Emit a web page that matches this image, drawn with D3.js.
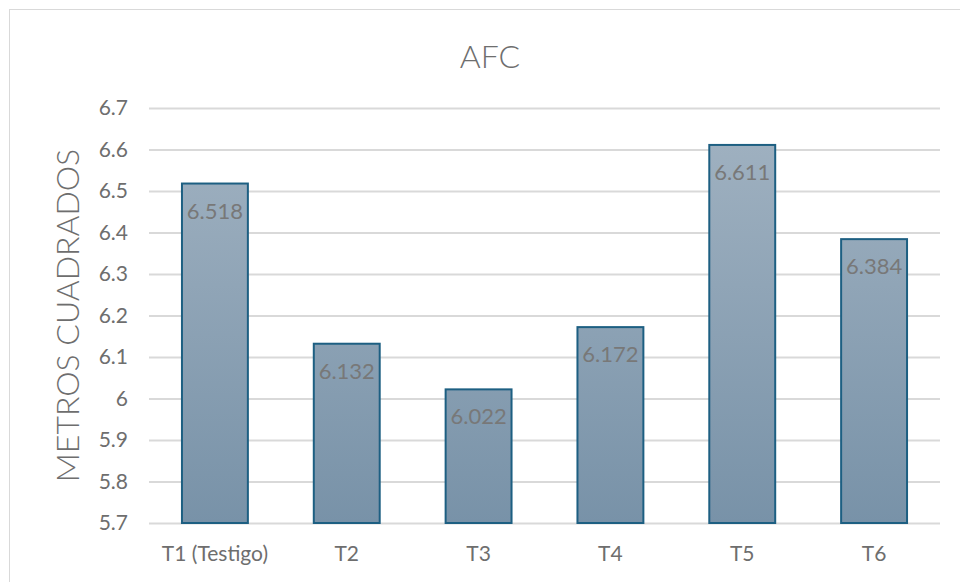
<!DOCTYPE html>
<html>
<head>
<meta charset="utf-8">
<script src="https://cdn.jsdelivr.net/npm/d3@7"></script>
<style>
  html, body { margin: 0; padding: 0; background: #fff; }
  svg { display: block; }
  text { font-family: Lato, "Open Sans", sans-serif; }
</style>
</head>
<body>
<svg id="chart" width="960" height="582"></svg>
<script>
// Treatment categories and measured AFC values (square metres)
const categories = ["T1 (Testigo)", "T2", "T3", "T4", "T5", "T6"];
const values = [6.518, 6.132, 6.022, 6.172, 6.611, 6.384];
const yTicks = [5.7, 5.8, 5.9, 6.0, 6.1, 6.2, 6.3, 6.4, 6.5, 6.6, 6.7];
const chartTitle = "AFC";
const yTitle = "METROS CUADRADOS";

const svg = d3.select("#chart");
const W = 960, H = 582;
const plot = { left: 149, right: 940, top: 108, bottom: 523 };

// Outer chart frame
svg.append("rect")
  .attr("x", 9.5).attr("y", 9.5)
  .attr("width", W + 10).attr("height", H + 10)
  .attr("fill", "#fff").attr("stroke", "#d9d9d9").attr("stroke-width", 1);

const x = d3.scaleBand()
  .domain(categories)
  .range([plot.left, plot.right])
  .paddingInner(0.5).paddingOuter(0.25);

const y = d3.scaleLinear()
  .domain([5.7, 6.7])
  .range([plot.bottom, plot.top]);

// Bar gradient
const defs = svg.append("defs");
const grad = defs.append("linearGradient")
  .attr("id", "barFill")
  .attr("gradientUnits", "userSpaceOnUse")
  .attr("x1", 0).attr("x2", 0)
  .attr("y1", plot.top).attr("y2", plot.bottom);
grad.append("stop").attr("offset", "0%").attr("stop-color", "#a2b3c2");
grad.append("stop").attr("offset", "100%").attr("stop-color", "#7892a8");

// Horizontal gridlines and tick labels
const yAxis = d3.axisLeft(y)
  .tickValues(yTicks)
  .tickSize(-(plot.right - plot.left))
  .tickPadding(21)
  .tickFormat(d => d3.format("")(+d.toFixed(1)));

const gy = svg.append("g")
  .attr("transform", `translate(${plot.left},0)`)
  .call(yAxis);
gy.select(".domain").remove();
gy.selectAll(".tick line").attr("stroke", "#d9d9d9").attr("stroke-width", 2);
gy.selectAll(".tick text")
  .attr("fill", "#6e6e6e")
  .attr("font-size", 21)
  .attr("font-family", "Lato, sans-serif");

// Bars
svg.append("g").selectAll("rect")
  .data(values)
  .join("rect")
  .attr("x", (d, i) => x(categories[i]))
  .attr("y", d => y(d))
  .attr("width", x.bandwidth())
  .attr("height", d => y(5.7) - y(d))
  .attr("fill", "url(#barFill)")
  .attr("stroke", "#1d5f82")
  .attr("stroke-width", 2);

// Value labels inside the top of each bar
svg.append("g").selectAll("text")
  .data(values)
  .join("text")
  .attr("x", (d, i) => x(categories[i]) + x.bandwidth() / 2)
  .attr("y", d => y(d) + 35)
  .attr("text-anchor", "middle")
  .attr("fill", "#787878")
  .attr("font-size", 22)
  .text(d => d3.format(".3f")(d));

// Category labels
svg.append("g").selectAll("text")
  .data(categories)
  .join("text")
  .attr("x", d => x(d) + x.bandwidth() / 2)
  .attr("y", 561)
  .attr("text-anchor", "middle")
  .attr("fill", "#6e6e6e")
  .attr("font-size", 21)
  .text(d => d);

// Chart title
svg.append("text")
  .attr("x", 490).attr("y", 68)
  .attr("text-anchor", "middle")
  .attr("fill", "#6e6e6e")
  .attr("font-size", 32)
  .attr("font-weight", 300)
  .text(chartTitle);

// Y axis title
svg.append("text")
  .attr("transform", `translate(79,${(plot.top + plot.bottom) / 2}) rotate(-90)`)
  .attr("text-anchor", "middle")
  .attr("fill", "#6e6e6e")
  .attr("font-size", 32)
  .attr("font-weight", 300)
  .text(yTitle);
</script>
</body>
</html>
